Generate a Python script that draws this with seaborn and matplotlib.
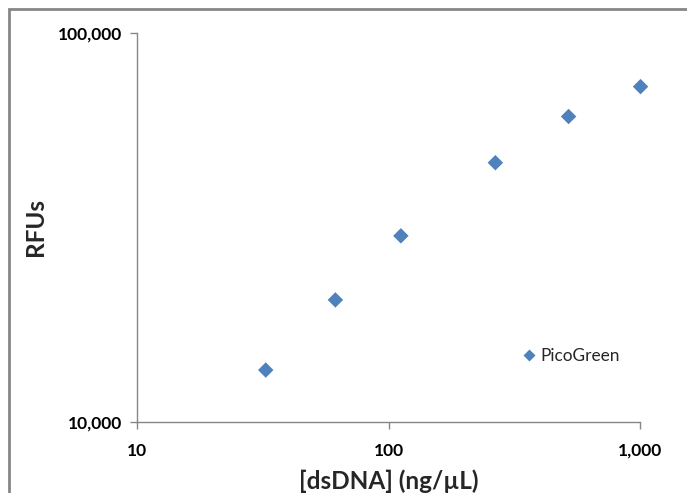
import numpy as np
import pandas as pd
import matplotlib
matplotlib.use('Agg')
import matplotlib.pyplot as plt
import matplotlib.ticker as mticker
from matplotlib.patches import Rectangle
import seaborn as sns

# values
dsdna = [32.5, 61.5, 112, 266, 520, 1005]
rfus = [13600, 20600, 30100, 46400, 61000, 72800]
series_name = 'PicoGreen'

df = pd.DataFrame({'dsDNA': dsdna, 'RFUs': rfus, 'dye': series_name})

sns.set_style('ticks')
plt.rcParams['font.family'] = ['Lato', 'DejaVu Sans']

fig = plt.figure(figsize=(6.87, 4.93), dpi=100)
ax = fig.add_axes([137 / 687, 1 - 422 / 493, (640 - 137) / 687, (422 - 33) / 493])

sns.scatterplot(data=df, x='dsDNA', y='RFUs', hue='dye', palette=['#4F81BD'],
                marker='D', s=62, edgecolor='none', ax=ax, clip_on=False)

ax.set_xscale('log')
ax.set_yscale('log')
ax.set_xlim(10, 1000)
ax.set_ylim(10000, 100000)
ax.xaxis.set_minor_locator(mticker.NullLocator())
ax.yaxis.set_minor_locator(mticker.NullLocator())
fmt = mticker.FuncFormatter(lambda v, p: f'{v:,.0f}')
ax.xaxis.set_major_formatter(fmt)
ax.yaxis.set_major_formatter(fmt)

for side in ['top', 'right']:
    ax.spines[side].set_visible(False)
for side in ['left', 'bottom']:
    ax.spines[side].set_color('#868686')
    ax.spines[side].set_linewidth(1.0)
ax.tick_params(axis='both', colors='#868686', length=5, width=1.0,
               labelcolor='black', labelsize=12.5)
ax.tick_params(axis='x', pad=10)
ax.tick_params(axis='y', pad=6)
for lab in ax.get_xticklabels() + ax.get_yticklabels():
    lab.set_fontweight('bold')

# x label sits right at the bottom edge, as in the reference
ax.set_xlabel('[dsDNA] (ng/µL)', fontsize=17.5, fontweight='bold')
ax.set_ylabel('RFUs', fontsize=17.5, fontweight='bold')
ax.xaxis.set_label_coords(0.5, (422 - 469) / 389)
ax.yaxis.set_label_coords((47 - 137) / 503, 0.5)

leg = ax.legend(loc='center left', bbox_to_anchor=((522 - 137) / 503, (422 - 356) / 389),
                frameon=False, fontsize=12.4, handlelength=0.8, handletextpad=0.24,
                markerscale=0.8, borderpad=0, borderaxespad=0)
for h in leg.legend_handles:
    h.set_markeredgecolor('none')

# outer chart frame (cut off at right and bottom)
fig.patches.append(Rectangle((8.5 / 687, -0.1), 1.2, 1 - 9.5 / 493 + 0.1,
                             transform=fig.transFigure, fill=False,
                             edgecolor='#868686', linewidth=2.0))

fig.savefig('out.png', dpi=100)
